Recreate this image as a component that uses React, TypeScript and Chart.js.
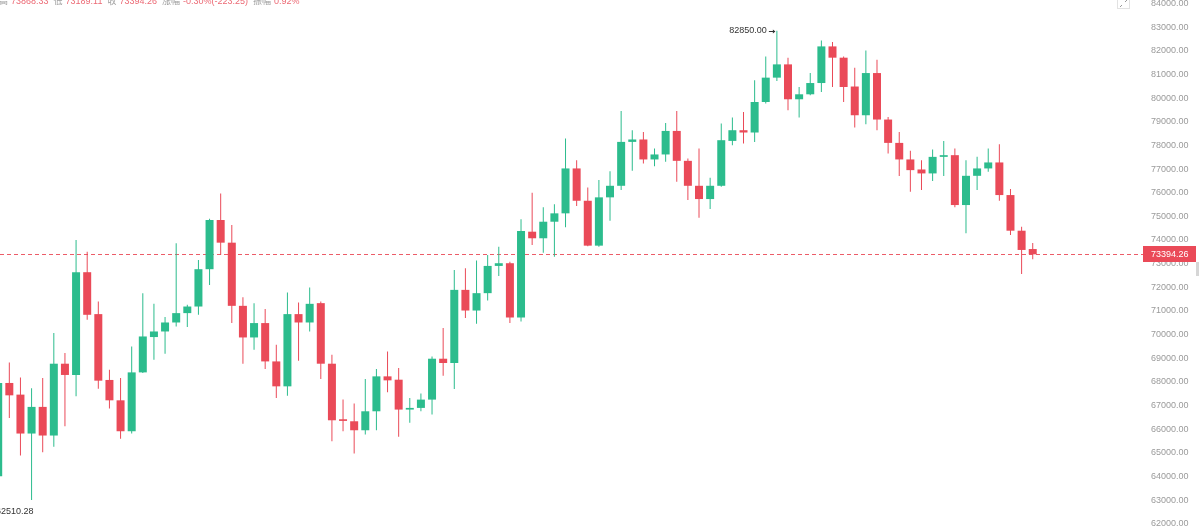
import { useEffect, useRef } from "react";
import { Chart, registerables } from "chart.js";

Chart.register(...registerables);

const OPEN = [
  64015, 67955, 67462, 65816, 66943, 65732, 68769, 68293, 72638, 70866,
  68082, 67221, 65913, 68402, 69896, 70132, 70512, 70908, 71187, 72765,
  74845, 73887, 71216, 69879, 70487, 68866, 67812, 70866, 70512, 71330,
  68769, 66420, 66335, 65955, 66757, 68234, 68093, 66829, 66900, 67251,
  68980, 68799, 71891, 71018, 71752, 72904, 73018, 70723, 74351, 74073,
  74773, 75127, 77026, 75659, 73761, 75803, 76292, 78148, 78250, 77406,
  77617, 78612, 77347, 76292, 75731, 76292, 78190, 78642, 78545, 79836,
  80865, 81426, 79950, 80161, 80637, 82186, 81709, 80490, 79275, 81059,
  79093, 78106, 77406, 76982, 76815, 77515, 77587, 75478, 76714, 77026,
  77279, 75900, 74393, 73617.51,
];
const HIGH = [
  68000, 68824, 68191, 67727, 68166, 70065, 69221, 74001, 73507, 71398,
  68516, 68166, 69499, 71752, 71301, 70740, 73862, 71259, 73157, 74900,
  75971, 74634, 71584, 71330, 71077, 69571, 71778, 71356, 71989, 71398,
  69149, 67251, 67082, 68124, 68546, 69288, 68588, 67322, 67504, 69078,
  70276, 72735, 72807, 73128, 73368, 73718, 73085, 74874, 75997, 75381,
  75507, 78292, 77376, 76224, 76532, 76912, 79456, 78642, 78570, 77870,
  78950, 79456, 77448, 77870, 76629, 78925, 79178, 79414, 80751, 81764,
  82850, 81709, 80469, 81059, 82439, 82367, 81764, 81287, 82017, 81625,
  79203, 78570, 77769, 77376, 77828, 78190, 77870, 77376, 77515, 77870,
  78051, 76153, 74562, 73868.33,
];
const LOW = [
  63900, 66478, 64888, 63002, 65027, 65255, 66124, 67390, 70626, 67715,
  66871, 65593, 65816, 68377, 68938, 69191, 70343, 70318, 70837, 72102,
  73368, 70487, 68769, 69360, 68546, 67322, 67419, 68896, 70132, 68124,
  65491, 65913, 64972, 65774, 65955, 67559, 65677, 66268, 66757, 66618,
  68263, 67702, 70698, 70457, 71440, 72482, 70487, 70554, 73790, 73465,
  73296, 74537, 75435, 73740, 73718, 74815, 76110, 76925, 77237, 77123,
  77304, 76461, 75689, 74942, 75309, 76250, 78009, 78081, 78148, 79768,
  80722, 79486, 79178, 80120, 80258, 80469, 79836, 78756, 78895, 78642,
  77659, 76701, 76039, 76110, 76490, 76701, 75381, 74284, 76110, 76883,
  75659, 74212, 72567, 73189.11,
];
const CLOSE = [
  67955, 67432, 65816, 66943, 65732, 68769, 68293, 72638, 70837, 68052,
  67221, 65913, 68402, 69921, 70132, 70512, 70908, 71187, 72765, 74845,
  73887, 71216, 69879, 70487, 68866, 67812, 70866, 70512, 71301, 68769,
  66377, 66350, 65955, 66757, 68234, 68065, 66829, 66900, 67251, 68980,
  68799, 71891, 71018, 71752, 72904, 73018, 70723, 74381, 74073, 74773,
  75127, 77026, 75659, 73761, 75803, 76292, 78148, 78250, 77406, 77617,
  78612, 77347, 76292, 75731, 76292, 78220, 78642, 78545, 79836, 80865,
  81426, 79950, 80161, 80637, 82186, 81709, 80469, 79275, 81059, 79093,
  78106, 77406, 76954, 76815, 77515, 77587, 75478, 76714, 77026, 77279,
  75900, 74393, 73579, 73394.26,
];

const Y_TICKS = [
  62000, 63000, 64000, 65000, 66000, 67000, 68000, 69000, 70000, 71000, 72000,
  73000, 74000, 75000, 76000, 77000, 78000, 79000, 80000, 81000, 82000, 83000, 84000,
];
const LAST_PRICE = 73394.26;
const HIGH_MARK_INDEX = 70;
const HIGH_MARK_VALUE = 82850.0;
const LOW_MARK_INDEX = -2;
const LOW_MARK_VALUE = 62510.28;
const HEADER_LABELS = ["高", "低", "收", "涨幅", "振幅"];
const HEADER_VALUES = ["73868.33", "73189.11", "73394.26", "-0.30%(-223.25)", "0.92%"];

const UP = "#2cbc8d";
const DOWN = "#ea4a58";
const FONT = "'Liberation Sans', Arial, 'Noto Sans CJK SC', sans-serif";

export default function App() {
  const ref = useRef<HTMLCanvasElement | null>(null);

  useEffect(() => {
    document.body.style.margin = "0";
    const canvas = ref.current!;
    const idx = OPEN.map((_, i) => i);
    const colors = idx.map((i) => (CLOSE[i] >= OPEN[i] ? UP : DOWN));

    const overlay = {
      id: "overlay",
      beforeDatasetsDraw(chart: any) {
        const { ctx, chartArea, scales } = chart;
        const y = Math.round(scales.y.getPixelForValue(LAST_PRICE)) + 0.5;
        ctx.save();
        ctx.strokeStyle = "rgba(234,74,88,0.9)";
        ctx.lineWidth = 1;
        ctx.setLineDash([4, 3]);
        ctx.beginPath();
        ctx.moveTo(chartArea.left, y);
        ctx.lineTo(chartArea.right, y);
        ctx.stroke();
        ctx.restore();
      },
      afterDraw(chart: any) {
        const { ctx, chartArea, scales } = chart;
        ctx.save();
        // last price tag
        const y = Math.round(scales.y.getPixelForValue(LAST_PRICE));
        ctx.fillStyle = DOWN;
        ctx.fillRect(chartArea.right, y - 8, 53, 16);
        ctx.fillStyle = "#ffffff";
        ctx.font = `9px ${FONT}`;
        ctx.textBaseline = "middle";
        ctx.textAlign = "left";
        ctx.fillText(LAST_PRICE.toFixed(2), chartArea.right + 8, y + 0.5);

        // high mark
        const hx = scales.x.getPixelForValue(HIGH_MARK_INDEX);
        const hy = scales.y.getPixelForValue(HIGH_MARK_VALUE);
        ctx.strokeStyle = "#333";
        ctx.fillStyle = "#333";
        ctx.lineWidth = 1;
        ctx.beginPath();
        ctx.moveTo(hx - 8, Math.round(hy) + 0.5);
        ctx.lineTo(hx - 2, Math.round(hy) + 0.5);
        ctx.stroke();
        ctx.beginPath();
        ctx.moveTo(hx - 1.5, Math.round(hy) + 0.5);
        ctx.lineTo(hx - 4, Math.round(hy) - 1.5);
        ctx.lineTo(hx - 4, Math.round(hy) + 2.5);
        ctx.closePath();
        ctx.fill();
        ctx.textAlign = "right";
        ctx.fillText(HIGH_MARK_VALUE.toFixed(2), hx - 10, hy);

        // low mark
        const lx = scales.x.getPixelForValue(LOW_MARK_INDEX);
        const ly = scales.y.getPixelForValue(LOW_MARK_VALUE);
        ctx.textAlign = "left";
        ctx.fillText(LOW_MARK_VALUE.toFixed(2), lx + 20, ly);

        // header
        ctx.font = `9px ${FONT}`;
        ctx.textBaseline = "alphabetic";
        let x = -1;
        HEADER_LABELS.forEach((label, i) => {
          ctx.fillStyle = "#a0a0a0";
          ctx.fillText(label, x, 3.5);
          x += ctx.measureText(label).width + 3;
          ctx.fillStyle = "#ec6a75";
          ctx.fillText(HEADER_VALUES[i], x, 3.5);
          x += ctx.measureText(HEADER_VALUES[i]).width + 5;
        });

        // corner icon
        ctx.strokeStyle = "#e2e2e2";
        ctx.strokeRect(1117.5, -4.5, 12, 13);
        ctx.strokeStyle = "#999";
        ctx.beginPath();
        ctx.moveTo(1120, 7);
        ctx.lineTo(1122, 5);
        ctx.moveTo(1125, 2);
        ctx.lineTo(1127, 0);
        ctx.stroke();

        // scroll handle
        ctx.fillStyle = "#d6d6d6";
        ctx.fillRect(1196, 262, 3, 14);
        ctx.restore();
      },
    };

    const chart = new Chart(canvas, {
      type: "bar",
      data: {
        datasets: [
          {
            label: "wick",
            data: idx.map((i) => ({ x: i, y: [LOW[i], HIGH[i]] })) as any,
            backgroundColor: colors,
            barThickness: 1,
            grouped: false,
            inflateAmount: 0,
            minBarLength: 1,
            order: 2,
          } as any,
          {
            label: "body",
            data: idx.map((i) => ({ x: i, y: [OPEN[i], CLOSE[i]] })) as any,
            backgroundColor: colors,
            barThickness: 8,
            grouped: false,
            inflateAmount: 0,
            minBarLength: 1,
            order: 1,
          } as any,
        ],
      },
      options: {
        responsive: false,
        animation: false,
        devicePixelRatio: 1,
        layout: { padding: 0 },
        plugins: { legend: { display: false }, tooltip: { enabled: false } },
        scales: {
          x: {
            type: "linear",
            display: false,
            offset: false,
            min: 0.1618,
            max: 102.913,
          },
          y: {
            position: "right",
            min: 61822,
            max: 84148,
            grid: { display: false, drawTicks: false },
            border: { display: false },
            afterBuildTicks: (scale: any) => {
              scale.ticks = Y_TICKS.map((v) => ({ value: v }));
            },
            afterFit: (scale: any) => {
              scale.width = 56;
              scale.paddingTop = 0;
              scale.paddingBottom = 0;
            },
            ticks: {
              padding: 8,
              color: "#9a9a9a",
              font: { family: FONT, size: 9 },
              callback: (v: any) => Number(v).toFixed(2),
            },
          },
        },
      },
      plugins: [overlay],
    });
    return () => chart.destroy();
  }, []);

  return (
    <div style={{ width: 1199, height: 528 }}>
      <canvas ref={ref} width={1199} height={528} style={{ display: "block" }} />
    </div>
  );
}
